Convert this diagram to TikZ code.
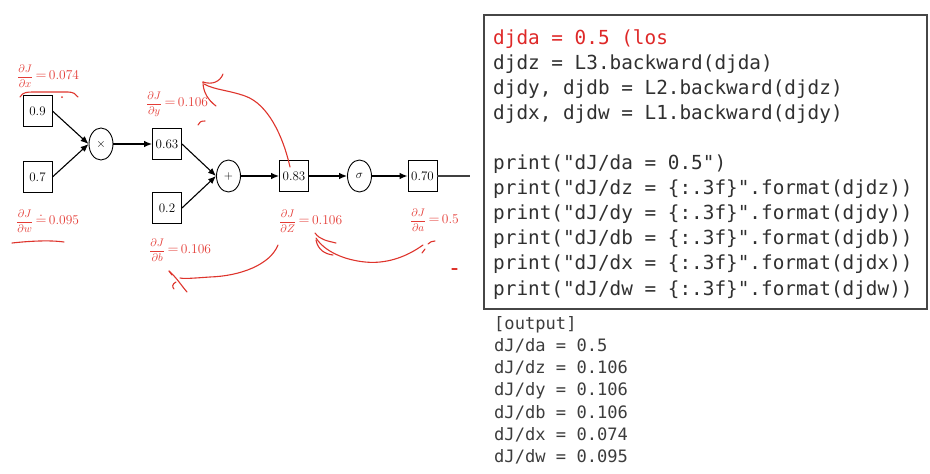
\documentclass[tikz,border=0pt]{standalone}
\usepackage{amsmath}
\usepackage{fontspec}
\usetikzlibrary{shapes.geometric,arrows.meta}
\newfontfamily\codefont{DejaVu Sans Mono}
\definecolor{hred}{RGB}{222,52,44}
\definecolor{lblred}{RGB}{228,60,54}
\definecolor{codered}{RGB}{222,40,40}
\definecolor{codegray}{RGB}{48,48,48}
\definecolor{outgray}{RGB}{60,60,60}
\definecolor{boxgray}{RGB}{70,70,70}
\newcommand{\gradlbl}[3]{{\fontsize{11}{13}\selectfont$\dfrac{\partial J}{\partial #1}$}{\fontsize{13.5}{15}\selectfont$\,#2\,$#3}}
\tikzset{
  valbox/.style={draw=black, line width=0.9pt, minimum width=29pt, minimum height=31pt, inner sep=0pt, font=\fontsize{13}{15}\selectfont},
  opnode/.style={ellipse, draw=black, line width=0.9pt, minimum width=24pt, minimum height=32pt, inner sep=0pt, font=\fontsize{13}{15}\selectfont},
  flow/.style={line width=1.1pt, -{Latex[length=8pt,width=6.5pt]}},
  lbl/.style={anchor=west, inner sep=0pt, text=lblred},
  scrib/.style={draw=hred, line width=1.1pt, line cap=round, line join=round},
  codeline/.style={anchor=base west, inner sep=0pt, text=codegray, font=\codefont\fontsize{19.35}{25}\selectfont},
  outline/.style={anchor=base west, inner sep=0pt, text=outgray, font=\codefont\fontsize{17.1}{22}\selectfont},
}
\begin{document}
\begin{tikzpicture}[x=1pt,y=-1pt]
\useasboundingbox (0,0) rectangle (930,474);
% graph nodes
\node[valbox] (x) at (37.5,111) {0.9};
\node[valbox] (w) at (37.5,177) {0.7};
\node[opnode] (mul) at (101,144) {$\times$};
\node[valbox] (y) at (167,144) {0.63};
\node[valbox] (b) at (167,208) {0.2};
\node[opnode] (add) at (228.5,176) {$+$};
\node[valbox] (z) at (294,176) {0.83};
\node[opnode] (sig) at (359.5,176) {$\sigma$};
\node[valbox] (a) at (422.5,176) {0.70};
\coordinate (out) at (470,176);
\draw[flow] (x.east) -- (mul.west);
\draw[flow] (w.east) -- (mul.west);
\draw[flow] (mul.east) -- (y.west);
\draw[flow] (y.east) -- (add.west);
\draw[flow] (b.east) -- (add.west);
\draw[flow] (add.east) -- (z.west);
\draw[flow] (z.east) -- (sig.west);
\draw[flow] (sig.east) -- (a.west);
\draw[line width=1.1pt, draw=black!75] (a.east) -- (out);
% red labels
\node[lbl] (lx) at (17,76) {\gradlbl{x}{=}{0.074}};
\node[lbl] (lw) at (16,221) {\gradlbl{w}{\doteq}{0.095}};
\node[lbl] (ly) at (146,104) {\gradlbl{y}{=}{0.106}};
\node[lbl] (lb) at (149,250) {\gradlbl{b}{=}{0.106}};
\node[lbl] (lz) at (279,221) {\gradlbl{Z}{=}{0.106}};
\node[lbl] (la) at (410,220) {\gradlbl{a}{=}{0.5}};
% hand-drawn strokes
\draw[scrib] (20,97) .. controls (23,92) and (27,92) .. (34,92) -- (68,92) .. controls (73,92) and (76,94) .. (78,97);
\fill[hred] (62,97) circle (1pt);
\draw[scrib] (12,243) .. controls (30,241) and (50,240) .. (64,242);
% curve from 0.83 up to dJ/dy
\draw[scrib] (290,167) .. controls (283,136) and (268,104) .. (245,96) .. controls (228,90) and (215,90) .. (204,84);
\draw[scrib] (223,74) .. controls (220,82) and (212,85) .. (203,82);
\draw[scrib] (203,82) .. controls (203,92) and (208,100) .. (216,106);
\draw[scrib] (198,125) .. controls (199,122) and (201,121) .. (205,121);
% curve from dJ/dZ down to dJ/db
\draw[scrib] (278,245) .. controls (270,265) and (240,276) .. (210,277) .. controls (195,278) and (185,279) .. (180,278);
\draw[scrib] (169,271) .. controls (176,277) and (181,285) .. (187,292);
\draw[scrib] (169,271) -- (172,275);
\draw[scrib] (176,282) .. controls (172,284) and (172,287) .. (174,289);
% curve from dJ/da to dJ/dZ
\draw[scrib] (423,245) .. controls (405,258) and (385,264) .. (365,262) .. controls (345,260) and (325,252) .. (316,238);
\draw[scrib] (315,233) .. controls (320,240) and (328,241) .. (336,243);
\draw[scrib] (316,240) .. controls (318,250) and (325,254) .. (333,255);
\draw[scrib] (422,253) -- (425,249);
\draw[scrib] (428,244) .. controls (430,242) and (432,241) .. (435,241);
\draw[scrib] (452,269) -- (457,269);
% code box
\draw[draw=boxgray, line width=1.2pt] (484,15) rectangle (927,309);
\node[codeline, text=codered] (c0) at (493,44) {djda = 0.5 (los};
\node[codeline] (c1) at (493,69.1) {djdz = L3.backward(djda)};
\node[codeline] (c2) at (493,94.2) {djdy, djdb = L2.backward(djdz)};
\node[codeline] (c3) at (493,119.3) {djdx, djdw = L1.backward(djdy)};
\node[codeline] (c5) at (493,169.5) {print("dJ/da = 0.5")};
\node[codeline] (c6) at (493,194.6) {print("dJ/dz = \{:.3f\}".format(djdz))};
\node[codeline] (c7) at (493,219.7) {print("dJ/dy = \{:.3f\}".format(djdy))};
\node[codeline] (c8) at (493,244.8) {print("dJ/db = \{:.3f\}".format(djdb))};
\node[codeline] (c9) at (493,269.9) {print("dJ/dx = \{:.3f\}".format(djdx))};
\node[codeline] (c10) at (493,295) {print("dJ/dw = \{:.3f\}".format(djdw))};
% output
\node[outline] (o0) at (494,329) {[output]};
\node[outline] (o1) at (494,351.3) {dJ/da = 0.5};
\node[outline] (o2) at (494,373.6) {dJ/dz = 0.106};
\node[outline] (o3) at (494,395.9) {dJ/dy = 0.106};
\node[outline] (o4) at (494,418.2) {dJ/db = 0.106};
\node[outline] (o5) at (494,440.5) {dJ/dx = 0.074};
\node[outline] (o6) at (494,462.8) {dJ/dw = 0.095};
\end{tikzpicture}
\end{document}
